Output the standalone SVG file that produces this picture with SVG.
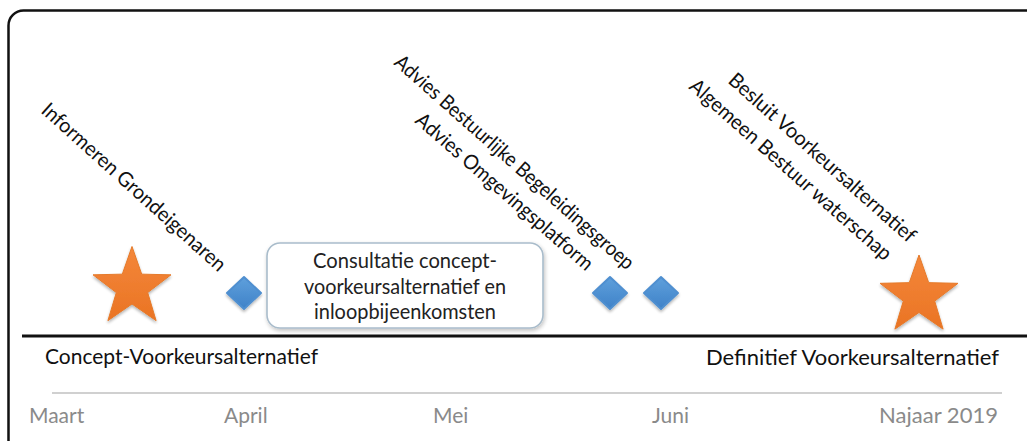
<svg xmlns="http://www.w3.org/2000/svg" width="1027" height="441" viewBox="0 0 1027 441">
  <style>
    .lbl { font-family: "Gill Sans", "Lato", "Liberation Sans", sans-serif; fill: #111; font-size: 20.5px; }
    .month { font-family: "Gill Sans", "Lato", "Liberation Sans", sans-serif; fill: #8a8a8a; font-size: 21px; }
    .boxtxt { font-family: "Gill Sans", "Lato", "Liberation Sans", sans-serif; fill: #222; font-size: 20.5px; text-anchor: middle; }
    .star { fill: url(#starGrad); stroke: #e57a2a; stroke-width: 1; stroke-linejoin: round; filter: url(#soft); }
    .diamond { fill: url(#diaGrad); stroke: #4f8fd0; stroke-width: 2; stroke-linejoin: round; filter: url(#soft); }
  </style>
  <defs>
    <linearGradient id="starGrad" x1="0" y1="0" x2="0" y2="1">
      <stop offset="0" stop-color="#f4873a"/>
      <stop offset="1" stop-color="#ea7424"/>
    </linearGradient>
    <linearGradient id="diaGrad" x1="0" y1="0" x2="0" y2="1">
      <stop offset="0" stop-color="#5fa0dc"/>
      <stop offset="1" stop-color="#3f82c8"/>
    </linearGradient>
    <filter id="soft" x="-20%" y="-20%" width="140%" height="140%">
      <feGaussianBlur in="SourceAlpha" stdDeviation="1.5"/>
      <feOffset dx="0" dy="1.5" result="b"/>
      <feComponentTransfer><feFuncA type="linear" slope="0.3"/></feComponentTransfer>
      <feMerge><feMergeNode/><feMergeNode in="SourceGraphic"/></feMerge>
    </filter>
    <filter id="boxShadow" x="-10%" y="-10%" width="120%" height="130%">
      <feGaussianBlur in="SourceAlpha" stdDeviation="2"/>
      <feOffset dx="1" dy="2"/>
      <feComponentTransfer><feFuncA type="linear" slope="0.25"/></feComponentTransfer>
      <feMerge><feMergeNode/><feMergeNode in="SourceGraphic"/></feMerge>
    </filter>
    <polygon id="starShape" points="0,-41 9.7,-13.35 38.99,-12.67 15.69,5.1 24.11,33.17 0,16.5 -24.11,33.17 -15.69,5.1 -38.99,-12.67 -9.7,-13.35"/>
    <polygon id="diaShape" points="0,-16 17,0 0,16 -17,0"/>
  </defs>

  <rect width="1027" height="441" fill="#ffffff"/>

  <g id="frame">
    <rect x="8.5" y="10.5" width="1040" height="460" rx="15" ry="15" fill="none" stroke="#111" stroke-width="2.5"/>
  </g>

  <g id="connectors">
    <line x1="22" y1="336" x2="1027" y2="336" stroke="#111" stroke-width="3"/>
    <line x1="52" y1="393" x2="1002" y2="393" stroke="#d0d0d0" stroke-width="1.8"/>
  </g>

  <g id="star-start">
    <use href="#starShape" class="star" transform="translate(132,287.5)"/>
  </g>

  <g id="diamond-informeren">
    <use href="#diaShape" class="diamond" transform="translate(244,293)"/>
    <text class="lbl" transform="translate(40,112) rotate(42)" textLength="240" lengthAdjust="spacingAndGlyphs">Informeren Grondeigenaren</text>
  </g>

  <g id="box-consultatie">
    <rect x="267" y="243" width="276" height="85" rx="13" ry="13" fill="#ffffff" stroke="#a9bccb" stroke-width="1.6" filter="url(#boxShadow)"/>
    <text class="boxtxt" x="405" y="268" textLength="184" lengthAdjust="spacingAndGlyphs">Consultatie concept-</text>
    <text class="boxtxt" x="405" y="294" textLength="202" lengthAdjust="spacingAndGlyphs">voorkeursalternatief en</text>
    <text class="boxtxt" x="405" y="319" textLength="182" lengthAdjust="spacingAndGlyphs">inloopbijeenkomsten</text>
  </g>

  <g id="diamond-omgevingsplatform">
    <use href="#diaShape" class="diamond" transform="translate(610,293)"/>
    <text class="lbl" transform="translate(414,122) rotate(41)" textLength="228" lengthAdjust="spacingAndGlyphs">Advies Omgevingsplatform</text>
  </g>

  <g id="diamond-begeleidingsgroep">
    <use href="#diaShape" class="diamond" transform="translate(661,293)"/>
    <text class="lbl" transform="translate(393,64) rotate(41.5)" textLength="312" lengthAdjust="spacingAndGlyphs">Advies Bestuurlijke Begeleidingsgroep</text>
  </g>

  <g id="star-end">
    <use href="#starShape" class="star" transform="translate(919,296)"/>
    <text class="lbl" transform="translate(727,82) rotate(41.7)" textLength="243" lengthAdjust="spacingAndGlyphs">Besluit Voorkeursalternatief</text>
    <text class="lbl" transform="translate(688,88) rotate(41.5)" textLength="262" lengthAdjust="spacingAndGlyphs">Algemeen Bestuur waterschap</text>
  </g>

  <g id="milestones">
    <text class="lbl" x="45" y="364" textLength="273" lengthAdjust="spacingAndGlyphs">Concept-Voorkeursalternatief</text>
    <text class="lbl" x="706" y="365" textLength="293" lengthAdjust="spacingAndGlyphs">Definitief Voorkeursalternatief</text>
  </g>

  <g id="months">
    <text class="month" x="29" y="423">Maart</text>
    <text class="month" x="224" y="423">April</text>
    <text class="month" x="433" y="423">Mei</text>
    <text class="month" x="652" y="423">Juni</text>
    <text class="month" x="879" y="423" textLength="119" lengthAdjust="spacingAndGlyphs">Najaar 2019</text>
  </g>
</svg>
